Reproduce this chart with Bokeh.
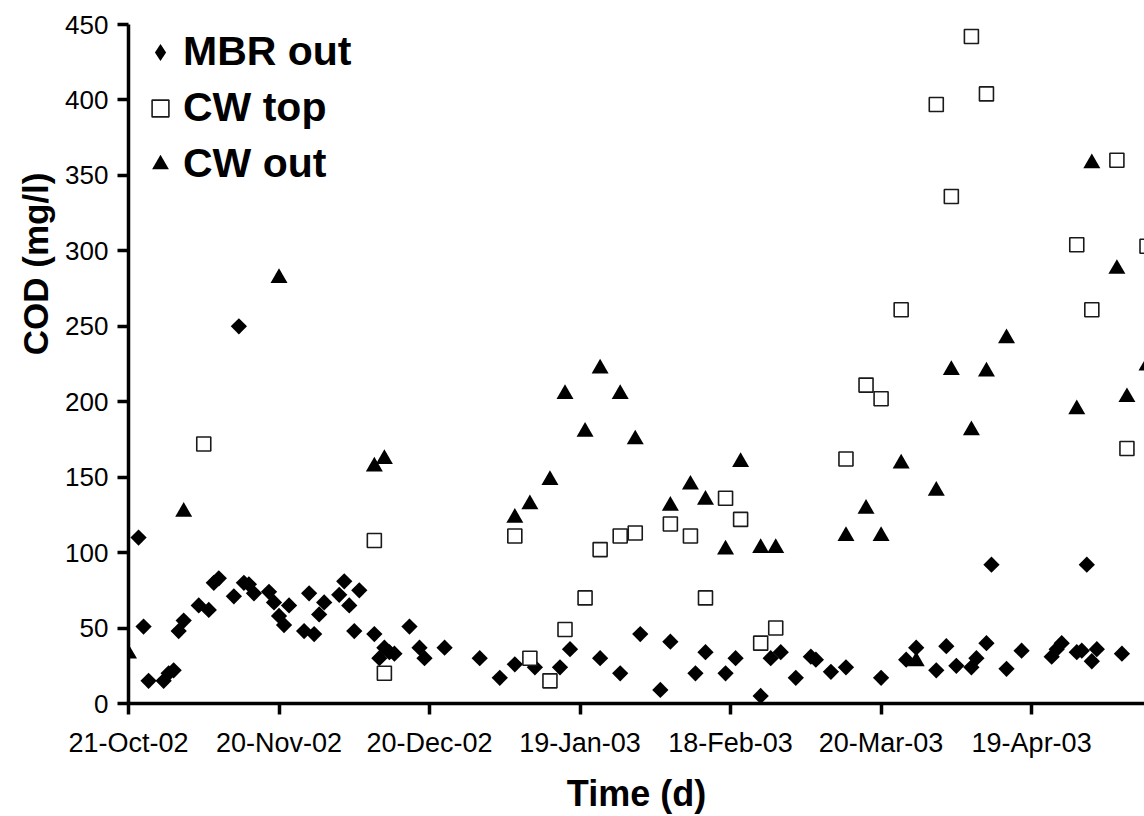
import numpy as np
import pandas as pd
from bokeh.plotting import figure
from bokeh.models import (Range1d, FixedTicker, DatetimeTickFormatter, Legend,
                          LegendItem, ColumnDataSource, Title)
from bokeh.embed import file_html
from bokeh.resources import INLINE

# ---- data (days since the start date, COD in mg/l) ----
START = "2002-10-21"

mbr_day = [2, 3, 4, 7, 8, 9, 10, 11, 14, 16, 17, 18, 21, 22, 23, 24, 25, 28, 29, 30,
           31, 32, 35, 36, 37, 38, 39, 42, 43, 44, 45, 46, 49, 50, 51, 52, 53, 56, 58, 59,
           63, 70, 74, 77, 81, 86, 88, 94, 98, 102, 106, 108, 113, 115, 119, 121, 126, 128, 130, 133,
           136, 137, 140, 143, 150, 155, 157, 161, 163, 165, 168, 169, 171, 172, 175, 178, 184, 185, 186, 189,
           190, 191, 192, 193, 198]
mbr_cod = [110, 51, 15, 15, 20, 22, 48, 55, 65, 62, 80, 83, 71, 250, 80, 79, 73, 74, 67, 58,
           52, 65, 48, 73, 46, 59, 67, 72, 81, 65, 48, 75, 46, 30, 37, 34, 33, 51, 37, 30,
           37, 30, 17, 26, 24, 24, 36, 30, 20, 46, 9, 41, 20, 34, 20, 30, 5, 30, 34, 17,
           31, 29, 21, 24, 17, 29, 37, 22, 38, 25, 24, 30, 40, 92, 23, 35, 31, 36, 40, 34,
           35, 92, 28, 36, 33]

top_day = [15, 49, 51, 77, 80, 84, 87, 91, 94, 98, 101, 108, 112, 115, 119, 122, 126, 129, 143, 147,
           150, 154, 161, 164, 168, 171, 189, 192, 197, 199, 203]
top_cod = [172, 108, 20, 111, 30, 15, 49, 70, 102, 111, 113, 119, 111, 70, 136, 122, 40, 50, 162, 211,
           202, 261, 397, 336, 442, 404, 304, 261, 360, 169, 303]

out_day = [0, 11, 30, 49, 51, 77, 80, 84, 87, 91, 94, 98, 101, 108, 112, 115, 119, 122, 126, 129,
           143, 147, 150, 154, 157, 161, 164, 168, 171, 175, 189, 192, 197, 199, 203]
out_cod = [33, 127, 282, 157, 162, 123, 132, 148, 205, 180, 222, 205, 175, 131, 145, 135, 102, 160, 103, 103,
           111, 129, 111, 159, 28, 141, 221, 181, 220, 242, 195, 358, 288, 203, 224]

series_names = ["MBR out", "CW top", "CW out"]
tick_days = [0, 30, 60, 90, 120, 150, 180]
y_ticks = [0, 50, 100, 150, 200, 250, 300, 350, 400, 450]
x_title = "Time (d)"
y_title = "COD (mg/l)"

start = pd.Timestamp(START)


def to_dt(days):
    return start + pd.to_timedelta(np.asarray(days, dtype=float), unit="D")


def to_ms(d):
    return (start + pd.Timedelta(days=d)).value / 1e6


FONT = "Liberation Sans"
W, H = 1144, 816
LEFT, TOP, BOTTOM = 128, 24, 109
FRAME_H = H - TOP - BOTTOM

p = figure(width=W, height=H, output_backend="svg", toolbar_location=None,
           x_axis_type="datetime",
           x_range=Range1d(to_ms(0), to_ms(202.5)),
           y_range=Range1d(0, 450),
           min_border_left=LEFT, min_border_right=0,
           min_border_top=TOP, min_border_bottom=BOTTOM)
p.outline_line_color = None
p.xgrid.visible = False
p.ygrid.visible = False

src_mbr = ColumnDataSource(dict(x=to_dt(mbr_day), y=mbr_cod))
src_top = ColumnDataSource(dict(x=to_dt(top_day), y=top_cod))
src_out = ColumnDataSource(dict(x=to_dt(out_day), y=out_cod))

r_mbr = p.scatter("x", "y", source=src_mbr, marker="square", angle=np.pi / 4,
                  size=11.5, fill_color="black", line_color=None)
r_top = p.scatter("x", "y", source=src_top, marker="square", size=14,
                  fill_color="white", line_color="#1a1a1a", line_width=1.6)
r_out = p.scatter("x", "y", source=src_out, marker="triangle", size=17,
                  fill_color="black", line_color=None)
# legend swatch for the diamonds (the legend ignores marker angles); no visible point
r_mbr_key = p.scatter(x=[np.nan], y=[np.nan], marker="diamond",
                      fill_color="black", line_color=None)

# axes
xa = p.xaxis[0]
ya = p.yaxis[0]
xa.ticker = FixedTicker(ticks=[to_ms(d) for d in tick_days])
fmt = "%d-%b-%y"
xa.formatter = DatetimeTickFormatter(days=fmt, months=fmt, years=fmt, hours=fmt,
                                     hourmin=fmt, minutes=fmt, minsec=fmt, seconds=fmt,
                                     milliseconds=fmt, microseconds=fmt)
ya.ticker = FixedTicker(ticks=y_ticks)

for ax in (xa, ya):
    ax.axis_line_width = 3.5
    ax.axis_line_color = "black"
    ax.major_tick_line_width = 3.5
    ax.major_tick_line_color = "black"
    ax.major_tick_out = 11
    ax.major_tick_in = 0
    ax.minor_tick_line_color = None
    ax.major_label_text_font = FONT
    ax.major_label_text_color = "black"
    ax.axis_label_text_font = FONT
    ax.axis_label_text_font_style = "bold"
    ax.axis_label_text_font_size = "36px"
    ax.axis_label_text_color = "black"

xa.major_label_text_font_size = "27px"
ya.major_label_text_font_size = "26px"
xa.axis_label = x_title
xa.major_label_standoff = 13
xa.axis_label_standoff = 12
ya.major_label_standoff = 9

# y-axis title, positioned as in the reference (above the frame centre)
p.add_layout(Title(text=y_title, align="right", offset=148, standoff=16,
                   text_font=FONT, text_font_size="35px", text_font_style="bold",
                   text_color="black"), "left")

legend = Legend(items=[LegendItem(label=series_names[0], renderers=[r_mbr_key]),
                       LegendItem(label=series_names[1], renderers=[r_top]),
                       LegendItem(label=series_names[2], renderers=[r_out])],
                location=(11, FRAME_H - 12 - 155), orientation="vertical",
                glyph_width=42, glyph_height=42, label_standoff=2,
                padding=0, margin=0, spacing=9,
                label_text_font=FONT, label_text_font_size="41px",
                label_text_font_style="bold", label_text_color="black",
                background_fill_alpha=0, border_line_color=None)
p.add_layout(legend)

open("out.html", "w").write(file_html(p, INLINE))
